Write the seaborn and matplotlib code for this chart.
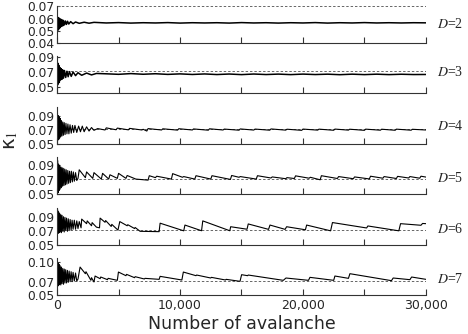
import seaborn as sns
import matplotlib.pyplot as plt
import pandas as pd

# kappa_1 vs number of avalanches, one row per dimension D
dims = [2, 3, 4, 5, 6, 7]

d2_x = [0, 40, 80, 120, 160, 200, 250, 300, 350, 400, 460, 520, 600, 680, 760, 850, 950, 1100, 1300, 1500,
        1800, 2200, 2600, 3000,
        4000, 5000, 6000, 7000, 8000, 9000, 10000, 11000, 12000, 13000, 14000, 15000, 16000, 17000, 18000,
        19000, 20000, 21000, 22000, 23000, 24000, 25000, 26000, 27000, 28000, 29000, 30000]
d2_y = [0.0525, 0.0612, 0.0505, 0.0608, 0.0515, 0.0600, 0.0525, 0.0595, 0.0535, 0.0590, 0.0540, 0.0585,
        0.0548, 0.0580, 0.0552, 0.0578, 0.0555, 0.0575, 0.0558, 0.0572, 0.0561, 0.0570, 0.0562, 0.0569,
        0.0564, 0.0567, 0.0563, 0.0566, 0.0564, 0.0567, 0.0563, 0.0566, 0.0564, 0.0566, 0.0563, 0.0567,
        0.0564, 0.0566, 0.0563, 0.0566, 0.0564, 0.0567, 0.0563, 0.0566, 0.0564, 0.0567, 0.0564, 0.0566,
        0.0564, 0.0566, 0.0565]

d3_x = [0, 30, 60, 100, 140, 180, 230, 280, 330, 390, 450, 520, 600, 700, 800, 900, 1000, 1150, 1300, 1500,
        1700, 2000, 2400, 2800, 3200,
        4000, 5000, 6000, 7000, 8000, 9000, 10000, 11000, 12000, 13000, 14000, 15000, 16000, 17000, 18000,
        19000, 20000, 21000, 22000, 23000, 24000, 25000, 26000, 27000, 28000, 29000, 30000]
d3_y = [0.0900, 0.0520, 0.0820, 0.0540, 0.0790, 0.0560, 0.0760, 0.0590, 0.0745, 0.0600, 0.0730, 0.0615,
        0.0720, 0.0625, 0.0710, 0.0635, 0.0705, 0.0640, 0.0700, 0.0650, 0.0690, 0.0655, 0.0685, 0.0660,
        0.0680,
        0.0675, 0.0668, 0.0678, 0.0669, 0.0676, 0.0667, 0.0674, 0.0666, 0.0673, 0.0665, 0.0672, 0.0664,
        0.0672, 0.0665, 0.0671, 0.0664, 0.0671, 0.0665, 0.0670, 0.0663, 0.0670, 0.0664, 0.0670, 0.0664,
        0.0669, 0.0665, 0.0666]

d4_x = [0, 30, 60, 90, 130, 170, 210, 250, 300, 350, 400, 460, 520, 580, 650, 720, 800, 880, 960, 1050,
        1150, 1250, 1350, 1450, 1600, 1750, 1900, 2050, 2200, 2400, 2600, 2800, 3000,
        3300, 3900, 4000, 4800, 4900, 5800, 5900, 6900, 7000, 7300, 7400, 8500, 8600, 9800, 9900, 11000,
        11100, 12300, 12400, 13500, 13600, 14800, 14900, 16000, 16100, 17300, 17400, 18600, 18700, 19900,
        20000, 21200, 21300, 22500, 22600, 23700, 23800, 25000, 25100, 26300, 26400, 27500, 27600, 28800,
        28900, 30000]
d4_y = [0.052, 0.094, 0.055, 0.090, 0.056, 0.088, 0.058, 0.086, 0.060, 0.083, 0.061, 0.081, 0.062, 0.080,
        0.063, 0.079, 0.064, 0.078, 0.064, 0.077, 0.065, 0.076, 0.066, 0.076, 0.066, 0.075, 0.067, 0.075,
        0.067, 0.074, 0.068, 0.073, 0.069,
        0.0715, 0.0695, 0.0725, 0.0698, 0.0722, 0.0697, 0.0718, 0.0695, 0.0705, 0.0680, 0.0715, 0.0695,
        0.0712, 0.0693, 0.0713, 0.0695, 0.0710, 0.0692, 0.0712, 0.0695, 0.0708, 0.0692, 0.0710, 0.0694,
        0.0708, 0.0692, 0.0710, 0.0693, 0.0706, 0.0690, 0.0708, 0.0693, 0.0707, 0.0691, 0.0708, 0.0693,
        0.0706, 0.0690, 0.0707, 0.0692, 0.0706, 0.0691, 0.0707, 0.0692, 0.0705, 0.0695]

d5_x = [0, 40, 80, 120, 160, 200, 250, 300, 350, 400, 450, 500, 560, 620, 680, 740, 800, 870, 940, 1010,
        1080, 1160, 1240, 1320, 1400, 1500, 1600, 1700,
        1800, 2300, 2400, 2900, 3000, 3600, 3700, 4200, 4300, 4900, 5000, 5600, 5700, 6400, 7400, 7500,
        8000, 8100, 9300, 9400, 10200, 10300, 11200, 11300, 12500, 12600, 14100, 14200, 14800, 14900,
        16200, 16300, 17400, 17500, 18600, 18700, 19300, 19400, 20500, 20600, 21400, 21500, 22800, 22900,
        24100, 24200, 25400, 25500, 26500, 26600, 27600, 27700, 28600, 28700, 29500, 29600, 30000]
d5_y = [0.060, 0.097, 0.052, 0.092, 0.055, 0.090, 0.057, 0.088, 0.059, 0.087, 0.061, 0.086, 0.062, 0.085,
        0.063, 0.084, 0.064, 0.083, 0.065, 0.082, 0.066, 0.082, 0.067, 0.081, 0.068, 0.080, 0.069, 0.072,
        0.084, 0.073, 0.081, 0.072, 0.080, 0.071, 0.079, 0.071, 0.077, 0.072, 0.079, 0.072, 0.076, 0.071,
        0.0695, 0.0757, 0.0730, 0.0750, 0.0710, 0.0786, 0.0735, 0.0745, 0.0710, 0.0757, 0.0710, 0.0757,
        0.0705, 0.0760, 0.0735, 0.0745, 0.0710, 0.0757, 0.0725, 0.0740, 0.0715, 0.0730, 0.0718, 0.0755,
        0.0722, 0.0735, 0.0700, 0.0757, 0.0718, 0.0745, 0.0715, 0.0740, 0.0712, 0.0750, 0.0722, 0.0745,
        0.0718, 0.0748, 0.0725, 0.0745, 0.0722, 0.0750, 0.0738]

d6_x = [0, 40, 80, 120, 160, 200, 250, 300, 350, 400, 460, 520, 580, 640, 700, 770, 840, 910, 980, 1060,
        1140, 1220, 1300, 1400, 1500, 1600, 1700, 1800, 1950,
        2000, 2400, 2450, 2800, 2850, 3200, 3450, 3500, 3900, 3950, 4400, 4450, 4950, 5100, 5700, 5750,
        6300, 6350, 6750, 8300, 8380, 10300, 10400, 11750, 11850, 14050, 14120, 15450, 15550, 17200,
        17320, 18550, 18670, 20200, 20300, 22250, 22400, 25180, 25280, 27800, 27940, 29600, 29730, 30000]
d6_y = [0.070, 0.100, 0.066, 0.097, 0.067, 0.095, 0.068, 0.093, 0.067, 0.092, 0.069, 0.090, 0.068, 0.089,
        0.070, 0.088, 0.069, 0.087, 0.070, 0.086, 0.071, 0.085, 0.072, 0.085, 0.072, 0.084, 0.073, 0.083,
        0.074,
        0.0866, 0.0800, 0.0840, 0.0770, 0.0815, 0.0750, 0.0740, 0.0880, 0.0820, 0.0845, 0.0760, 0.0790,
        0.0707, 0.0830, 0.0770, 0.0785, 0.0730, 0.0745, 0.0690, 0.0685, 0.0807, 0.0697, 0.0780, 0.0698,
        0.0840, 0.0698, 0.0756, 0.0720, 0.0796, 0.0718, 0.0780, 0.0718, 0.0756, 0.0712, 0.0780, 0.0697,
        0.0816, 0.0738, 0.0767, 0.0697, 0.0800, 0.0777, 0.0803, 0.0800]

d7_x = [0, 40, 80, 120, 160, 200, 250, 300, 350, 400, 460, 520, 580, 640, 700, 770, 840, 910, 980, 1060,
        1140, 1220, 1300, 1400, 1500, 1600, 1700,
        1870, 2300, 2350, 2750, 2800, 3000, 3090, 3500, 3550, 4100, 4150, 4900, 4990, 5600, 5650, 6300,
        6350, 7100, 7150, 8300, 8380, 10150, 10270, 11300, 11350, 12500, 12550, 13700, 13750, 14880,
        15010, 15500, 15550, 18400, 18620, 20450, 20570, 22500, 22600, 23700, 23820, 27200, 27340, 28700,
        28840, 30000]
d7_y = [0.104, 0.063, 0.098, 0.064, 0.096, 0.066, 0.094, 0.065, 0.092, 0.067, 0.090, 0.066, 0.089, 0.068,
        0.088, 0.068, 0.087, 0.069, 0.086, 0.070, 0.085, 0.070, 0.084, 0.071, 0.083, 0.071, 0.074,
        0.0920, 0.0820, 0.0850, 0.0720, 0.0760, 0.0695, 0.0785, 0.0745, 0.0770, 0.0730, 0.0750, 0.0720,
        0.0845, 0.0790, 0.0810, 0.0760, 0.0775, 0.0740, 0.0750, 0.0735, 0.0780, 0.0725, 0.0845, 0.0790,
        0.0800, 0.0755, 0.0765, 0.0725, 0.0735, 0.0705, 0.0805, 0.0790, 0.0800, 0.0720, 0.0755, 0.0720,
        0.0765, 0.0720, 0.0785, 0.0750, 0.0820, 0.0715, 0.0755, 0.0730, 0.0770, 0.0735]

ref_levels = [0.0700, 0.0714, 0.0705, 0.0705, 0.0705, 0.0705]
y_limits = [(0.0405, 0.0704), (0.041, 0.0912), (0.05, 0.1025), (0.05, 0.1015), (0.05, 0.1030), (0.05, 0.1055)]
y_ticks = [[0.04, 0.05, 0.06, 0.07], [0.05, 0.07, 0.09], [0.05, 0.07, 0.09], [0.05, 0.07, 0.09],
           [0.05, 0.07, 0.09], [0.05, 0.07, 0.10]]
x_ticks = [0, 5000, 10000, 15000, 20000, 25000, 30000]
x_ticklabels = ['0', '', '10,000', '', '20,000', '', '30,000']

series = [(d2_x, d2_y), (d3_x, d3_y), (d4_x, d4_y), (d5_x, d5_y), (d6_x, d6_y), (d7_x, d7_y)]

sns.set_style("ticks")
plt.rcParams['font.family'] = ['DejaVu Sans']
plt.rcParams['mathtext.fontset'] = 'stix'

fig, axes = plt.subplots(6, 1, figsize=(4.68, 3.34), dpi=100, sharex=True)
fig.subplots_adjust(left=0.122, right=0.910, top=0.982, bottom=0.117, hspace=0.37)

label_pos = [0.50, 0.57, 0.47, 0.44, 0.43, 0.42]
line_w = [1.1, 1.1, 0.8, 0.8, 0.8, 0.8]

for i, ax in enumerate(axes):
    xs, ys = series[i]
    df = pd.DataFrame({'n': xs, 'k': ys})
    ax.axhline(ref_levels[i], color='0.4', lw=0.7, ls=(0, (2.5, 2)), zorder=1)
    sns.lineplot(data=df, x='n', y='k', ax=ax, color='black', lw=line_w[i],
                 estimator=None, sort=False, zorder=2)
    ax.set_xlim(0, 30000)
    ax.set_ylim(*y_limits[i])
    ax.set_yticks(y_ticks[i])
    ax.set_yticklabels([f'{t:.2f}' for t in y_ticks[i]])
    ax.set_xticks(x_ticks)
    ax.set_xlabel('')
    ax.set_ylabel('')
    sns.despine(ax=ax)
    for s in ['left', 'bottom']:
        ax.spines[s].set_linewidth(0.8)
        ax.spines[s].set_color('0.2')
    ax.tick_params(axis='x', direction='in', length=4, width=0.8, color='0.2', labelsize=9, pad=3)
    ax.tick_params(axis='y', direction='in', length=2.5, width=0.8, color='0.2', labelsize=8.8, pad=2)
    ax.text(1.03, label_pos[i], f'$D$=' + str(dims[i]), transform=ax.transAxes,
            ha='left', va='center', fontsize=10, family='Liberation Serif')

axes[-1].set_xticklabels(x_ticklabels)
axes[-1].set_xlabel('Number of avalanche', fontsize=12.5, labelpad=2)
fig.text(0.022, 0.58, r'κ$_1$', rotation=90, fontsize=14, ha='center', va='center')

fig.savefig('out.png', dpi=100)
